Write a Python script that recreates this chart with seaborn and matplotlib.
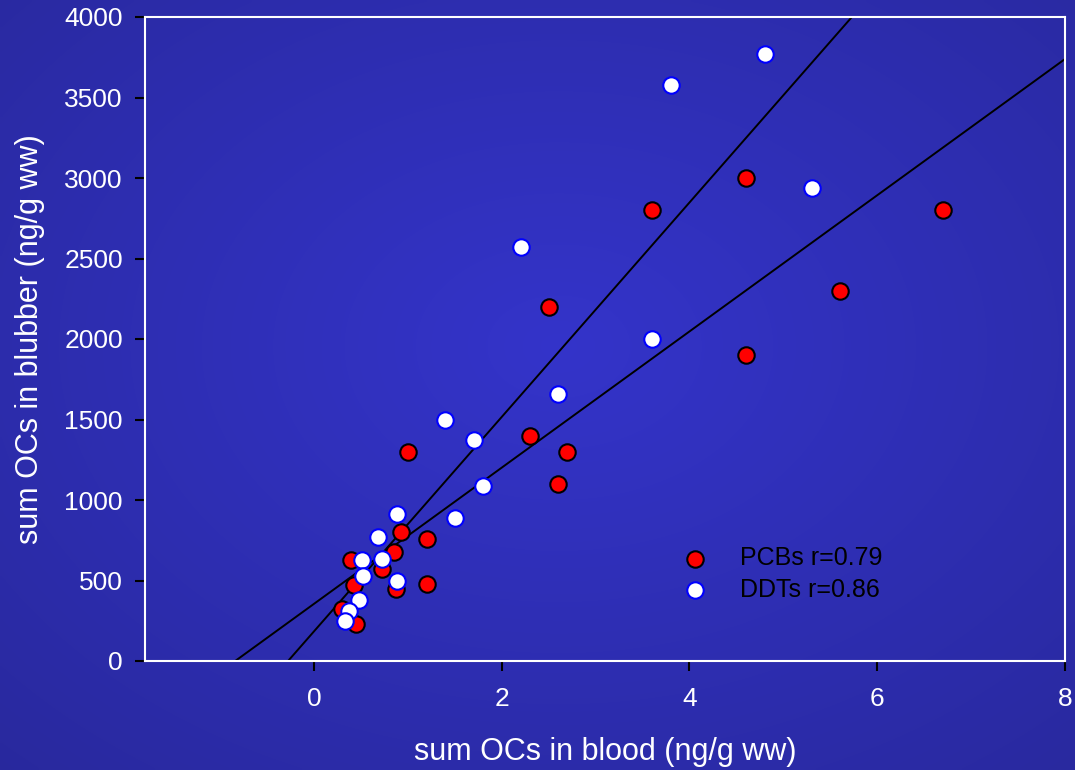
"""Blubber vs blood OC scatter with two regression lines on a blue slide background."""

import matplotlib
matplotlib.use("Agg")
import matplotlib.pyplot as plt
import numpy as np
import pandas as pd
import seaborn as sns

# ---- data ----
pcb_blood = [6.7, 4.6, 3.6, 5.6, 4.6, 2.5, 2.3, 2.7, 2.6, 1.0,
             0.93, 1.2, 0.85, 0.39, 0.72, 0.43, 0.87, 1.2, 0.30, 0.45]
pcb_blubber = [2800, 3000, 2800, 2300, 1900, 2200, 1400, 1300, 1100, 1300,
               800, 760, 680, 630, 570, 470, 450, 480, 320, 230]

ddt_blood = [4.8, 3.8, 5.3, 2.2, 3.6, 2.6, 1.4, 1.7, 1.8, 1.5,
             0.88, 0.68, 0.51, 0.72, 0.52, 0.88, 0.48, 0.37, 0.33]
ddt_blubber = [3770, 3580, 2940, 2570, 2000, 1660, 1500, 1370, 1090, 890,
               910, 770, 630, 635, 525, 495, 380, 310, 250]

# fitted lines: (intercept, slope) for PCBs and DDTs
line_intercepts = [355, 184]
line_slopes = [423, 666]

series_labels = ["PCBs r=0.79", "DDTs r=0.86"]
x_ticks = [0, 2, 4, 6, 8]
y_ticks = list(range(0, 4001, 500))

pcb = pd.DataFrame({"blood": pcb_blood, "blubber": pcb_blubber})
ddt = pd.DataFrame({"blood": ddt_blood, "blubber": ddt_blubber})

FONT = ["Liberation Sans", "DejaVu Sans"]
sns.set_style("white")
plt.rcParams["font.family"] = FONT

fig = plt.figure(figsize=(10.75, 7.7), dpi=100)

# background gradient
bg = fig.add_axes([0, 0, 1, 1], zorder=-10)
yy, xx = np.mgrid[0:1:200j, 0:1:280j]
r = np.sqrt(((xx - 0.52) / 0.8) ** 2 + ((yy - 0.45) / 0.8) ** 2)
t = np.clip(r, 0, 1)
edge = np.array([40, 40, 155]) / 255
center = np.array([52, 52, 202]) / 255
img = center[None, None, :] * (1 - t[..., None]) + edge[None, None, :] * t[..., None]
bg.imshow(img, aspect="auto", extent=[0, 1, 0, 1], interpolation="bilinear")
bg.set_axis_off()

ax = fig.add_axes([145 / 1075, 1 - 661 / 770, 920 / 1075, 644 / 770])
ax.set_facecolor("none")

ax.set_xlim(-1.8, 8)
ax.set_ylim(0, 4000)

for b, m in zip(line_intercepts, line_slopes):
    ax.axline((0, b), slope=m, color="black", lw=1.4, zorder=2)

sns.scatterplot(data=pcb, x="blood", y="blubber", ax=ax, s=140,
                color="#ff0000", edgecolor="black", linewidth=1.5,
                label=series_labels[0], zorder=3)
sns.scatterplot(data=ddt, x="blood", y="blubber", ax=ax, s=140,
                color="white", edgecolor="#0000ff", linewidth=1.5,
                label=series_labels[1], zorder=4)

ax.set_xticks(x_ticks)
ax.set_yticks(y_ticks)
ax.tick_params(axis="both", direction="out", length=7, width=1.5,
               color="black", labelcolor="white", labelsize=19)
ax.tick_params(axis="x", pad=12, bottom=True)
ax.tick_params(axis="y", pad=9, left=True)

for sp in ax.spines.values():
    sp.set_visible(True)
    sp.set_color("white")
    sp.set_linewidth(1.5)

ax.set_xlabel("sum OCs in blood (ng/g ww)", color="white", fontsize=22)
ax.set_ylabel("sum OCs in blubber (ng/g ww)", color="white", fontsize=22)
ax.xaxis.set_label_coords(0.5, -0.141)
ax.xaxis.label.set_va("center")
ax.yaxis.set_label_coords(-0.125, 0.5)
ax.yaxis.label.set_va("center")

leg = ax.legend(loc="center left", bbox_to_anchor=(0.546, 0.135), frameon=False,
                fontsize=18, handletextpad=0.8, labelspacing=0.3,
                markerscale=1.0)
for txt in leg.get_texts():
    txt.set_color("black")

fig.savefig("out.png", dpi=100)
